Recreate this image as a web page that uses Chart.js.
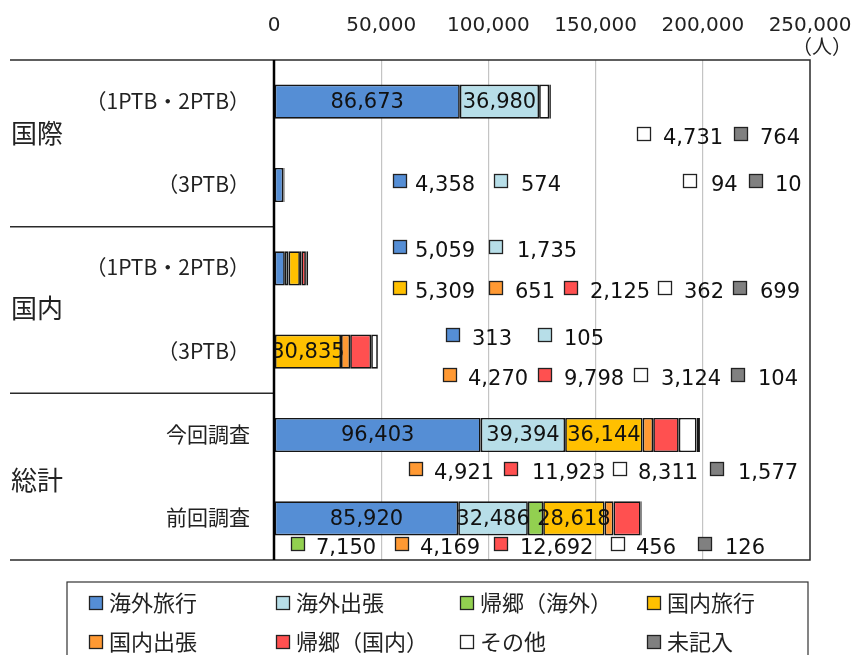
<!DOCTYPE html>
<html>
<head>
<meta charset="utf-8">
<script src="https://cdn.jsdelivr.net/npm/chart.js@4"></script>
<style>
  html, body { margin: 0; padding: 0; background: #fff; }
</style>
</head>
<body>
<canvas id="chart" width="856" height="655"></canvas>
<script>
// 行ラベル（上から）
const rowLabels = ['（1PTB・2PTB）', '（3PTB）', '（1PTB・2PTB）', '（3PTB）', '今回調査', '前回調査'];
const groupLabels = ['国際', '国内', '総計'];
const seriesNames = ['海外旅行', '海外出張', '帰郷（海外）', '国内旅行', '国内出張', '帰郷（国内）', 'その他', '未記入'];
const seriesColors = ['#558ed5', '#b7dee8', '#92d050', '#ffc000', '#ff9933', '#ff5050', '#ffffff', '#808080'];

// 各系列の値（行順）
const kaigaiRyoko    = [86673, 4358, 5059, 313, 96403, 85920];
const kaigaiShutcho  = [36980, 574, 1735, 105, 39394, 32486];
const kikyoKaigai    = [null, null, null, null, null, 7150];
const kokunaiRyoko   = [null, null, 5309, 30835, 36144, 28618];
const kokunaiShutcho = [null, null, 651, 4270, 4921, 4169];
const kikyoKokunai   = [null, null, 2125, 9798, 11923, 12692];
const sonota         = [4731, 94, 362, 3124, 8311, 456];
const mikinyu        = [764, 10, 699, 104, 1577, 126];

const xTicks = [0, 50000, 100000, 150000, 200000, 250000];

const seriesData = [kaigaiRyoko, kaigaiShutcho, kikyoKaigai, kokunaiRyoko, kokunaiShutcho, kikyoKokunai, sonota, mikinyu];

// バー内ラベル [行, 系列]
const inBarLabels = [[0, 0], [0, 1], [3, 3], [4, 0], [4, 1], [4, 3], [5, 0], [5, 1], [5, 3]];

// バー外ラベル（凡例キー付き） 行, 文字の中心y, [系列, キーx, 文字x]
const outsideLabels = [
  { row: 0, y: 139, items: [[6, 637, 663], [7, 734, 760]] },
  { row: 1, y: 186, items: [[0, 393, 415], [1, 494, 521], [6, 683, 711], [7, 749, 775]] },
  { row: 2, y: 252, items: [[0, 393, 415], [1, 489, 517]] },
  { row: 2, y: 293, items: [[3, 393, 415], [4, 489, 515], [5, 564, 590], [6, 658, 684], [7, 733, 760]] },
  { row: 3, y: 340, items: [[0, 446, 472], [1, 538, 564]] },
  { row: 3, y: 380, items: [[4, 443, 468], [5, 538, 564], [6, 634, 661], [7, 731, 758]] },
  { row: 4, y: 474, items: [[4, 409, 434], [5, 504, 532], [6, 613, 638], [7, 710, 738]] },
  { row: 5, y: 549, items: [[2, 291, 316], [4, 395, 420], [5, 494, 520], [6, 611, 636], [7, 698, 725]] }
];

const fmt = v => v.toLocaleString('en-US');
const numFont = '21px "DejaVu Sans"';
const jpFont = '"Noto Sans CJK JP"';
const lineColor = '#2a2a2a';

function keyBox(ctx, x, y, color) {
  ctx.fillStyle = color;
  ctx.fillRect(x, y, 14, 14);
  ctx.strokeStyle = '#222';
  ctx.lineWidth = 1.3;
  ctx.strokeRect(x + 0.5, y + 0.5, 13, 13);
}

const decorPlugin = {
  id: 'decor',
  afterDatasetsDraw(chart) {
    const ctx = chart.ctx;
    const area = chart.chartArea;

    // バー内の数値（プロット領域でクリップ）
    ctx.save();
    ctx.beginPath();
    ctx.rect(area.left, area.top, area.right - area.left, area.bottom - area.top);
    ctx.clip();
    ctx.font = numFont;
    ctx.textAlign = 'center';
    ctx.textBaseline = 'middle';
    inBarLabels.forEach(([r, s]) => {
      const bar = chart.getDatasetMeta(s).data[r];
      ctx.fillStyle = '#111';
      ctx.fillText(fmt(seriesData[s][r]), (bar.x + bar.base) / 2, bar.y + 1);
    });
    ctx.restore();

    // バー外の数値
    ctx.save();
    ctx.font = numFont;
    ctx.textAlign = 'left';
    ctx.textBaseline = 'middle';
    outsideLabels.forEach(line => {
      line.items.forEach(([s, kx, tx]) => {
        keyBox(ctx, kx, line.y - 12, seriesColors[s]);
        ctx.fillStyle = '#111';
        ctx.fillText(fmt(seriesData[s][line.row]), tx, line.y);
      });
    });
    ctx.restore();
  },
  afterDraw(chart) {
    const ctx = chart.ctx;
    const area = chart.chartArea;
    const yScale = chart.scales.y;
    ctx.save();

    // 枠線
    ctx.strokeStyle = lineColor;
    ctx.lineWidth = 1.5;
    ctx.beginPath();
    ctx.moveTo(10, area.top); ctx.lineTo(area.right, area.top);
    ctx.lineTo(area.right, area.bottom); ctx.lineTo(10, area.bottom);
    const cut1 = (yScale.getPixelForValue(1) + yScale.getPixelForValue(2)) / 2;
    const cut2 = (yScale.getPixelForValue(3) + yScale.getPixelForValue(4)) / 2;
    ctx.moveTo(10, cut1); ctx.lineTo(area.left, cut1);
    ctx.moveTo(10, cut2); ctx.lineTo(area.left, cut2);
    ctx.stroke();
    ctx.lineWidth = 2.5;
    ctx.strokeStyle = '#000';
    ctx.beginPath();
    ctx.moveTo(area.left, area.top); ctx.lineTo(area.left, area.bottom);
    ctx.stroke();

    // 行ラベル
    ctx.fillStyle = '#222';
    ctx.font = '21px ' + jpFont;
    ctx.textAlign = 'right';
    ctx.textBaseline = 'middle';
    rowLabels.forEach((t, i) => {
      ctx.fillText(t, 250, yScale.getPixelForValue(i) - 1);
    });

    // グループラベル
    ctx.font = '26px ' + jpFont;
    ctx.textAlign = 'left';
    const gOff = [-10, -2, 3];
    groupLabels.forEach((t, g) => {
      const y = (yScale.getPixelForValue(g * 2) + yScale.getPixelForValue(g * 2 + 1)) / 2;
      ctx.fillText(t, 11, y + gOff[g]);
    });

    // 単位
    ctx.font = '20px ' + jpFont;
    ctx.textAlign = 'right';
    ctx.fillText('（人）', 852, 46);

    // 凡例
    const lx = [89, 276, 460, 647];
    const ly = [603, 642];
    ctx.strokeStyle = '#333';
    ctx.lineWidth = 1.2;
    ctx.strokeRect(67, 582, 741, 90);
    ctx.font = '22px ' + jpFont;
    ctx.textAlign = 'left';
    ctx.textBaseline = 'middle';
    seriesNames.forEach((n, i) => {
      const x = lx[i % 4];
      const y = ly[Math.floor(i / 4)];
      keyBox(ctx, x, y - 7, seriesColors[i]);
      ctx.fillStyle = '#222';
      ctx.fillText(n, x + 20, y);
    });
    ctx.restore();
  }
};

new Chart(document.getElementById('chart'), {
  type: 'bar',
  data: {
    labels: rowLabels,
    datasets: seriesNames.map((n, i) => ({
      label: n,
      data: seriesData[i],
      backgroundColor: seriesColors[i],
      borderColor: '#151515',
      borderWidth: 1.7,
      borderSkipped: false,
      barPercentage: 0.41,
      categoryPercentage: 1.0
    }))
  },
  options: {
    indexAxis: 'y',
    responsive: false,
    animation: false,
    devicePixelRatio: 1,
    layout: { padding: { left: 10, right: 46, top: 0, bottom: 95 } },
    plugins: {
      legend: { display: false },
      tooltip: { enabled: false }
    },
    scales: {
      x: {
        position: 'top',
        stacked: true,
        min: 0,
        max: 250000,
        afterBuildTicks: s => { s.ticks = xTicks.map(v => ({ value: v })); },
        afterFit: s => { s.height = 60; s.paddingLeft = 0; s.paddingRight = 0; },
        ticks: {
          font: { family: 'DejaVu Sans', size: 20 },
          color: '#222',
          padding: 22,
          maxRotation: 0,
          autoSkip: false,
          callback: v => fmt(v)
        },
        grid: {
          drawTicks: false,
          tickLength: 0,
          color: c => (c.tick && (c.tick.value === 0 || c.tick.value === 250000)) ? 'rgba(0,0,0,0)' : '#c4c4c4',
          lineWidth: 1.2
        },
        border: { display: false }
      },
      y: {
        stacked: true,
        ticks: { display: false },
        grid: { display: false },
        border: { display: false },
        afterFit: s => { s.width = 264; }
      }
    }
  },
  plugins: [decorPlugin]
});
</script>
</body>
</html>
